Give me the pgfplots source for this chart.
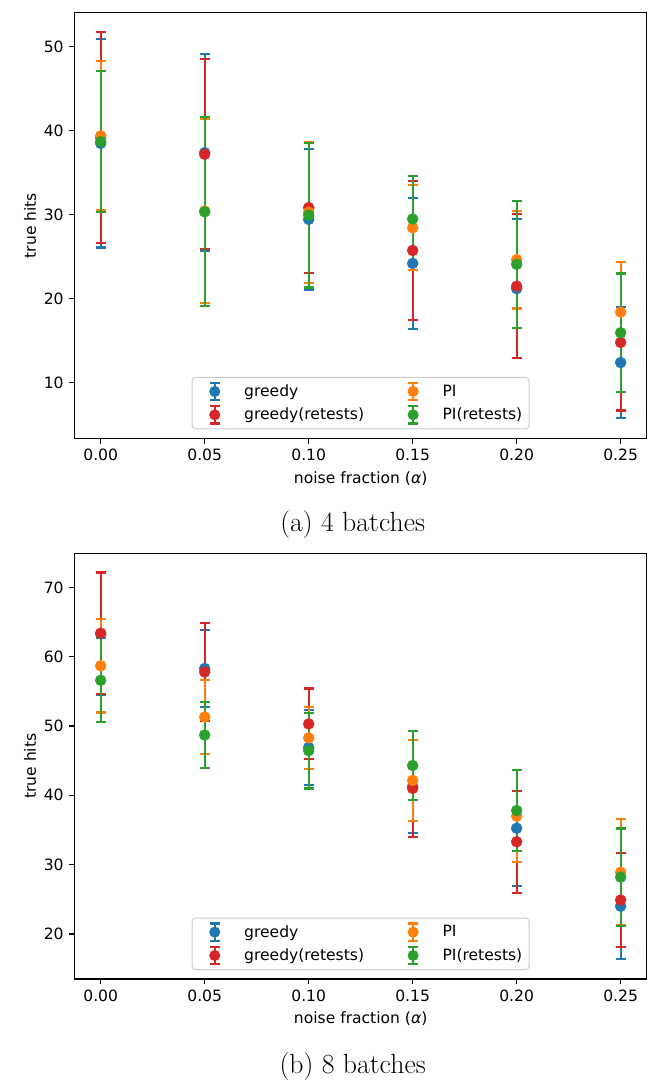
\documentclass[border=0pt]{standalone}
\usepackage{pgfplots}
\usepackage{pgfplotstable}
\pgfplotsset{compat=1.18}
\usepackage{fontspec}
\setsansfont{DejaVu Sans}

\definecolor{cblue}{HTML}{1F77B4}
\definecolor{cred}{HTML}{D62728}
\definecolor{corange}{HTML}{FF7F0E}
\definecolor{cgreen}{HTML}{2CA02C}

% mean and half width of the bar:
% g = greedy, r = greedy(retests), p = PI, q = PI(retests)
\pgfplotstableread{
x     gy     ge     ry     re     py     pe     qy     qe
0.00  38.5   12.4   39.2   12.55  39.4   8.9    38.7   8.4
0.05  37.4   11.7   37.2   11.3   30.45  10.95  30.35  11.25
0.10  29.45  8.35   30.85  7.8    30.3   8.4    29.95  8.6
0.15  24.2   7.8    25.75  8.3    28.45  5.05   29.5   5.1
0.20  21.2   8.25   21.5   8.6    24.65  5.8    24.1   7.55
0.25  12.4   6.6    14.8   8.1    18.4   6.0    15.95  7.05
}\batchfour

\pgfplotstableread{
x     gy     ge     ry     re     py     pe     qy     qe
0.00  63.3   8.8    63.4   8.75   58.7   6.75   56.6   6.05
0.05  58.3   5.5    57.8   7.05   51.3   5.35   48.7   4.75
0.10  46.9   5.4    50.3   5.1    48.3   4.45   46.45  5.45
0.15  41.3   6.7    41.0   7.0    42.15  5.85   44.3   5.0
0.20  35.25  8.35   33.3   7.35   37.0   6.6    37.8   5.85
0.25  24.0   7.65   24.9   6.75   28.9   7.65   28.2   7.0
}\batcheight

\newcommand\axfont{\sffamily\fontsize{11.2}{13.4}\selectfont}

\pgfplotsset{
  mpl/.style={
    scale only axis, width=411.8pt, height=306.4pt,
    xmin=-0.0125, xmax=0.2625,
    xtick={0,0.05,0.1,0.15,0.2,0.25},
    xticklabels={0.00,0.05,0.10,0.15,0.20,0.25},
    tick pos=left, tick align=outside,
    major tick length=3.9pt,
    every tick/.style={black, line width=0.9pt},
    axis line style={line width=0.9pt},
    tick label style={font=\axfont},
    xticklabel style={anchor=north, inner sep=0pt, yshift=-3.9pt},
    yticklabel style={anchor=east, inner sep=0pt, xshift=-3.9pt},
    xlabel={noise fraction (\textit{α})},
    ylabel={true hits},
    every axis x label/.style={at={(axis description cs:0.5,-0.094)}, anchor=center, font=\axfont},
    every axis y label/.style={at={(axis description cs:-0.0781,0.5)}, anchor=center, rotate=90, font=\axfont},
    legend columns=2, transpose legend, legend cell align=left,
    legend style={at={(0.5,0.0211)}, anchor=south, draw=black!20, line width=0.72pt,
      rounded corners=2.5pt, fill=white, inner xsep=5pt, inner ysep=1.7pt,
      row sep=0pt, column sep=0pt, font=\axfont, nodes={inner sep=0pt},
      /tikz/every even column/.append style={column sep=24pt}},
    legend image code/.code={
      \path[draw=none, fill=none] (0pt,-8.4pt) rectangle (32.5pt,8.4pt);
      \draw[line width=1.6pt, sharp corners] (11.3pt,-6.3pt) -- (11.3pt,6.3pt);
      \draw[line width=1.6pt, sharp corners] (7.7pt,-6.3pt) -- (14.9pt,-6.3pt);
      \draw[line width=1.6pt, sharp corners] (7.7pt,6.3pt) -- (14.9pt,6.3pt);
      \fill[draw=none] (11.3pt,0pt) circle (4pt);
    },
  },
  bars/.style={only marks, mark=*, mark size=0.01pt, forget plot, color=#1,
    mark options={draw=none, fill=none},
    error bars/.cd, y dir=both, y explicit, error mark=-,
    error bar style={line width=1.6pt, draw=#1},
    error mark options={rotate=90, line width=1.6pt, mark size=3.6pt, draw=#1}},
  dots/.style={only marks, mark=*, mark size=4pt, color=#1,
    mark options={fill=#1, draw=#1, line width=0.2pt}},
}

\begin{document}
\begin{tikzpicture}
\useasboundingbox (0,0) rectangle (479.52pt,781.2pt);

\begin{axis}[mpl, at={(53.78pt,465.6pt)}, anchor=south west,
  ymin=3.38, ymax=54.05,
  ytick={10,20,30,40,50}, yticklabels={10,20,30,40,50}]
\addplot[bars=cblue] table[x=x, y=gy, y error=ge] {\batchfour};
\addplot[bars=cred] table[x=x, y=ry, y error=re] {\batchfour};
\addplot[bars=corange] table[x=x, y=py, y error=pe] {\batchfour};
\addplot[bars=cgreen] table[x=x, y=qy, y error=qe] {\batchfour};
\addplot[dots=cblue] table[x=x, y=gy] {\batchfour};
\addlegendentry{greedy}
\addplot[dots=cred] table[x=x, y=ry] {\batchfour};
\addlegendentry{greedy(retests)}
\addplot[dots=corange] table[x=x, y=py] {\batchfour};
\addlegendentry{PI}
\addplot[dots=cgreen] table[x=x, y=qy] {\batchfour};
\addlegendentry{PI(retests)}
\end{axis}

\begin{axis}[mpl, at={(53.78pt,76.32pt)}, anchor=south west,
  ymin=13.5, ymax=74.9,
  ytick={20,30,40,50,60,70}, yticklabels={20,30,40,50,60,70}]
\addplot[bars=cblue] table[x=x, y=gy, y error=ge] {\batcheight};
\addplot[bars=cred] table[x=x, y=ry, y error=re] {\batcheight};
\addplot[bars=corange] table[x=x, y=py, y error=pe] {\batcheight};
\addplot[bars=cgreen] table[x=x, y=qy, y error=qe] {\batcheight};
\addplot[dots=cblue] table[x=x, y=gy] {\batcheight};
\addlegendentry{greedy}
\addplot[dots=cred] table[x=x, y=ry] {\batcheight};
\addlegendentry{greedy(retests)}
\addplot[dots=corange] table[x=x, y=py] {\batcheight};
\addlegendentry{PI}
\addplot[dots=cgreen] table[x=x, y=qy] {\batcheight};
\addlegendentry{PI(retests)}
\end{axis}

\node[font=\fontsize{20}{24}\selectfont, inner sep=0pt] at (253.9pt,403.2pt) {(a) 4 batches};
\node[font=\fontsize{20}{24}\selectfont, inner sep=0pt] at (253.9pt,13.2pt) {(b) 8 batches};
\end{tikzpicture}
\end{document}
